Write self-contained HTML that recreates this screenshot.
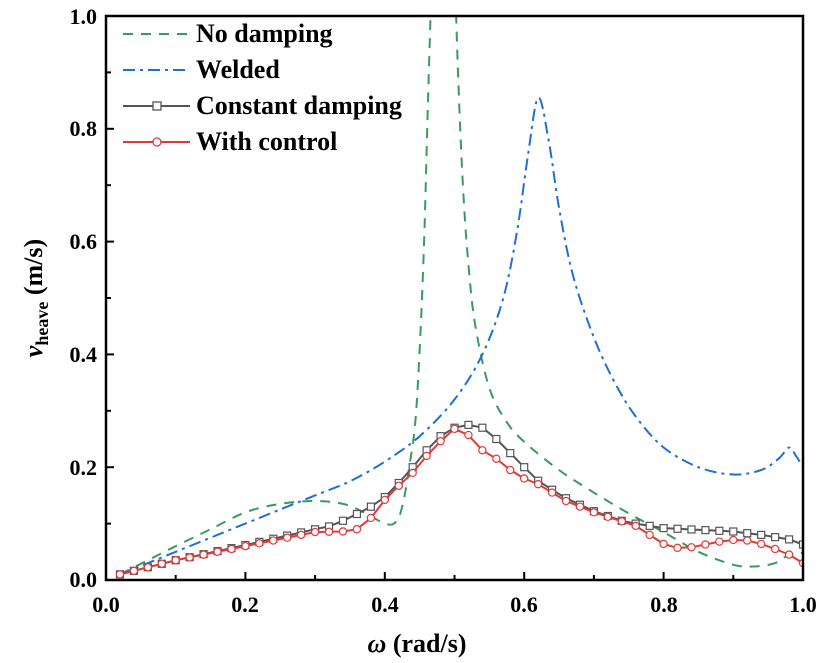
<!DOCTYPE html>
<html><head><meta charset="utf-8"><style>
html,body{margin:0;padding:0;background:#fff;}
svg{display:block;}
text,tspan{font-family:"Liberation Serif","Times New Roman",Times,"DejaVu Serif",serif !important;font-weight:bold;}
</style></head><body>
<svg id="s" width="828" height="663" viewBox="0 0 828 663" xmlns="http://www.w3.org/2000/svg">
<defs><clipPath id="c"><rect x="106" y="16" width="697" height="564"/></clipPath></defs>
<g id="plot" clip-path="url(#c)"></g>
<rect x="106" y="16" width="697" height="564" fill="none" stroke="#000" stroke-width="2.5"/>
<g id="ticks" stroke="#000" stroke-width="2"></g>
<g font-size="22" text-anchor="middle">
<text x="106" y="612">0.0</text><text x="245" y="612">0.2</text><text x="385" y="612">0.4</text>
<text x="524" y="612">0.6</text><text x="664" y="612">0.8</text><text x="803" y="612">1.0</text>
</g>
<g font-size="22" text-anchor="end">
<text x="97" y="587">0.0</text><text x="97" y="475">0.2</text><text x="97" y="362">0.4</text>
<text x="97" y="249">0.6</text><text x="97" y="136">0.8</text><text x="97" y="24">1.0</text>
</g>
<text x="417" y="652" font-size="26" text-anchor="middle"><tspan font-style="italic">ω</tspan> (rad/s)</text>
<text transform="translate(42,298) rotate(-90)" font-size="26" text-anchor="middle"><tspan font-style="italic">v</tspan><tspan font-size="18" dy="6">heave</tspan><tspan dy="-6"> (m/s)</tspan></text>
<g font-size="26">
<line x1="123" y1="34" x2="190" y2="34" stroke="#3a9a5c" stroke-width="2" stroke-dasharray="10,8"/>
<text x="196" y="42">No damping</text>
<line x1="123" y1="70" x2="190" y2="70" stroke="#1f6fd6" stroke-width="2" stroke-dasharray="12,5,3,5"/>
<text x="196" y="78">Welded</text>
<line x1="123" y1="106" x2="190" y2="106" stroke="#555" stroke-width="2"/>
<rect x="153" y="102" width="8" height="8" fill="#fff" stroke="#555" stroke-width="1.3"/>
<text x="196" y="114">Constant damping</text>
<line x1="123" y1="142" x2="190" y2="142" stroke="#e03a3a" stroke-width="2"/>
<circle cx="157" cy="142" r="4" fill="#fff" stroke="#e03a3a" stroke-width="1.3"/>
<text x="196" y="150">With control</text>
</g>
</svg>
<script>
var X=function(w){return 106+w*697;},Y=function(v){return 580-v*564;};
var NS="http://www.w3.org/2000/svg";
function el(t,a,p){var e=document.createElementNS(NS,t);for(var k in a)e.setAttribute(k,a[k]);p.appendChild(e);return e;}
function cr(pts){var d="M"+X(pts[0][0]).toFixed(1)+","+Y(pts[0][1]).toFixed(1);
for(var i=0;i<pts.length-1;i++){var p0=pts[Math.max(i-1,0)],p1=pts[i],p2=pts[i+1],p3=pts[Math.min(i+2,pts.length-1)];
var a=[X(p0[0]),Y(p0[1])],b=[X(p1[0]),Y(p1[1])],c=[X(p2[0]),Y(p2[1])],e=[X(p3[0]),Y(p3[1])];
d+="C"+(b[0]+(c[0]-a[0])/6).toFixed(1)+","+(b[1]+(c[1]-a[1])/6).toFixed(1)+" "+(c[0]-(e[0]-b[0])/6).toFixed(1)+","+(c[1]-(e[1]-b[1])/6).toFixed(1)+" "+c[0].toFixed(1)+","+c[1].toFixed(1);}
return d;}
function interp(pts,w){for(var i=0;i<pts.length-1;i++){if(w<=pts[i+1][0]){var t=(w-pts[i][0])/(pts[i+1][0]-pts[i][0]);return pts[i][1]+t*(pts[i+1][1]-pts[i][1]);}}return pts[pts.length-1][1];}
var g=document.getElementById("plot");
var green=[[0.02,0.01],[0.06,0.035],[0.1,0.06],[0.15,0.09],[0.2,0.12],[0.25,0.135],[0.3,0.14],[0.34,0.135],[0.37,0.12],[0.4,0.1],[0.415,0.102],[0.425,0.13],[0.435,0.2],[0.445,0.3],[0.455,0.55],[0.462,0.85],[0.468,1.1]];
var green2=[[0.5,1.1],[0.505,0.9],[0.512,0.7],[0.52,0.56],[0.53,0.45],[0.55,0.34],[0.575,0.28],[0.6,0.245],[0.65,0.195],[0.7,0.155],[0.75,0.118],[0.8,0.085],[0.85,0.05],[0.9,0.027],[0.93,0.024],[0.96,0.03],[0.98,0.045],[1.0,0.048]];
el("path",{d:cr(green),fill:"none",stroke:"#3a9a5c","stroke-width":2,"stroke-dasharray":"10,8"},g);
el("path",{d:cr(green2),fill:"none",stroke:"#3a9a5c","stroke-width":2,"stroke-dasharray":"10,8"},g);
var blue=[[0.02,0.01],[0.1,0.05],[0.2,0.1],[0.3,0.15],[0.35,0.175],[0.4,0.21],[0.45,0.255],[0.5,0.32],[0.54,0.4],[0.57,0.5],[0.59,0.62],[0.605,0.75],[0.62,0.855],[0.635,0.78],[0.65,0.66],[0.67,0.54],[0.7,0.43],[0.73,0.35],[0.76,0.29],[0.8,0.235],[0.85,0.2],[0.9,0.187],[0.94,0.195],[0.965,0.215],[0.98,0.235],[0.99,0.22],[1.0,0.2]];
el("path",{d:cr(blue),fill:"none",stroke:"#1f6fd6","stroke-width":2,"stroke-dasharray":"12,5,3,5"},g);
var blk=[[0.02,0.01],[0.1,0.035],[0.2,0.062],[0.3,0.09],[0.32,0.095],[0.34,0.105],[0.36,0.117],[0.38,0.13],[0.4,0.147],[0.42,0.172],[0.44,0.2],[0.46,0.23],[0.48,0.255],[0.5,0.27],[0.52,0.275],[0.54,0.27],[0.56,0.25],[0.58,0.225],[0.6,0.2],[0.62,0.176],[0.64,0.16],[0.66,0.145],[0.7,0.122],[0.74,0.105],[0.76,0.1],[0.8,0.092],[0.9,0.086],[0.94,0.08],[0.98,0.072],[1.0,0.063]];
var red=[[0.02,0.01],[0.1,0.035],[0.2,0.06],[0.3,0.085],[0.34,0.086],[0.36,0.09],[0.38,0.11],[0.4,0.142],[0.42,0.167],[0.44,0.19],[0.46,0.22],[0.48,0.246],[0.5,0.268],[0.52,0.257],[0.54,0.23],[0.56,0.215],[0.58,0.195],[0.6,0.18],[0.62,0.17],[0.64,0.155],[0.66,0.14],[0.7,0.12],[0.74,0.104],[0.76,0.096],[0.78,0.08],[0.8,0.064],[0.82,0.057],[0.84,0.058],[0.86,0.063],[0.88,0.068],[0.9,0.071],[0.92,0.07],[0.94,0.064],[0.96,0.055],[0.98,0.045],[1.0,0.03]];
function series(p,col,mk){var pts=[];for(var i=1;i<=50;i++){var w=i*0.02;pts.push([w,interp(p,w)]);}
el("polyline",{points:pts.map(function(q){return X(q[0]).toFixed(1)+","+Y(q[1]).toFixed(1);}).join(" "),fill:"none",stroke:col,"stroke-width":2},g);
pts.forEach(function(q){if(mk=="s")el("rect",{x:X(q[0])-3.5,y:Y(q[1])-3.5,width:7,height:7,fill:"#fff",stroke:col,"stroke-width":1.2},g);
else el("circle",{cx:X(q[0]),cy:Y(q[1]),r:3.6,fill:"#fff",stroke:col,"stroke-width":1.2},g);});}
series(blk,"#555","s");series(red,"#e03a3a","c");
var t=document.getElementById("ticks");
for(var i=0;i<=10;i++){var x=X(i*0.1),L=i%2==0?8:5;el("line",{x1:x,y1:580,x2:x,y2:580-L},t);}
for(var i=0;i<=10;i++){var y=Y(i*0.1),L=i%2==0?8:5;el("line",{x1:106,y1:y,x2:106+L,y2:y},t);}
</script>
</body></html>
